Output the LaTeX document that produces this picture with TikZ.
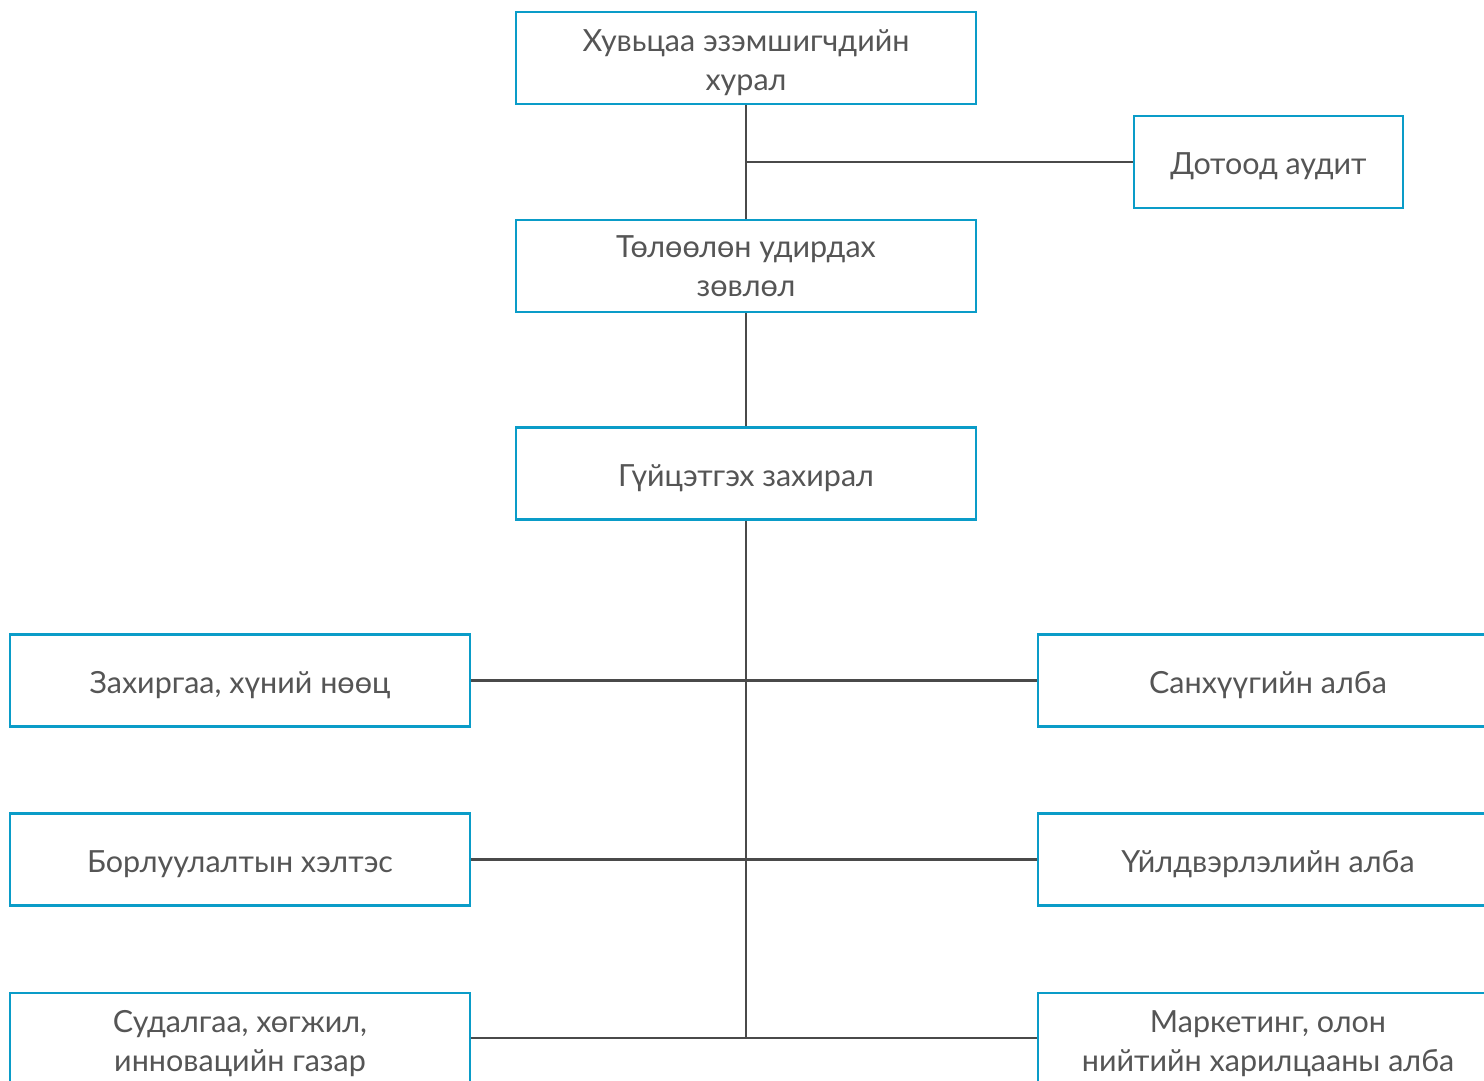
\documentclass[tikz,border=0pt]{standalone}
\usepackage{fontspec}
\setmainfont{Lato}
\definecolor{boxblue}{HTML}{0A9CC8}
\definecolor{linegrey}{HTML}{4A4A4A}
\definecolor{textgrey}{HTML}{555555}
\newcommand{\droptext}{\rule{0pt}{31pt}}
\begin{document}
\begin{tikzpicture}[x=1pt,y=-1pt,
    unit/.style={draw=boxblue,line width=2.5pt,minimum width=460pt,minimum height=92pt,
        inner sep=0pt,align=center,text=textgrey,
        font=\fontsize{30.5}{39}\selectfont,
        execute at begin node={\droptext}},
    link/.style={draw=linegrey,line width=2.5pt}]

    \useasboundingbox (0,0) rectangle (1484,1080);

    % top of the chart
    \node [unit] (hural) at (746,58) {\droptext Хувьцаа эзэмшигчдийн\\хурал};
    \node [unit,minimum width=269pt] (audit) at (1268.5,162) {Дотоод аудит};
    \node [unit] (zovlol) at (746,266) {Төлөөлөн удирдах\\зөвлөл};
    \node [unit] (zahiral) at (746,473.5) {Гүйцэтгэх захирал};

    % left column
    \node [unit] (hunii) at (240,680.5) {Захиргаа, хүний нөөц};
    \node [unit] (borluulalt) at (240,859.5) {Борлуулалтын хэлтэс};
    \node [unit] (sudalgaa) at (240,1039) {\droptext Судалгаа, хөгжил,\\инновацийн газар};

    % right column
    \node [unit] (sanhuu) at (1268,680.5) {Санхүүгийн алба};
    \node [unit] (uildver) at (1268,859.5) {Үйлдвэрлэлийн алба};
    \node [unit] (marketing) at (1268,1039) {\droptext Маркетинг, олон\\нийтийн харилцааны алба};

    % vertical spine
    \coordinate (spineend) at (746,1038);
    \draw [link] (hural) -- (zovlol);
    \draw [link] (zovlol) -- (zahiral);
    \draw [link] (zahiral) -- (spineend);

    % audit branch
    \draw [link] (hural.south |- audit.west) -- (audit.west);

    % department branches
    \draw [link] (hunii.east) -- (sanhuu.west);
    \draw [link] (borluulalt.east) -- (uildver.west);
    \draw [link] (sudalgaa.east |- spineend) -- (marketing.west |- spineend);

\end{tikzpicture}
\end{document}
